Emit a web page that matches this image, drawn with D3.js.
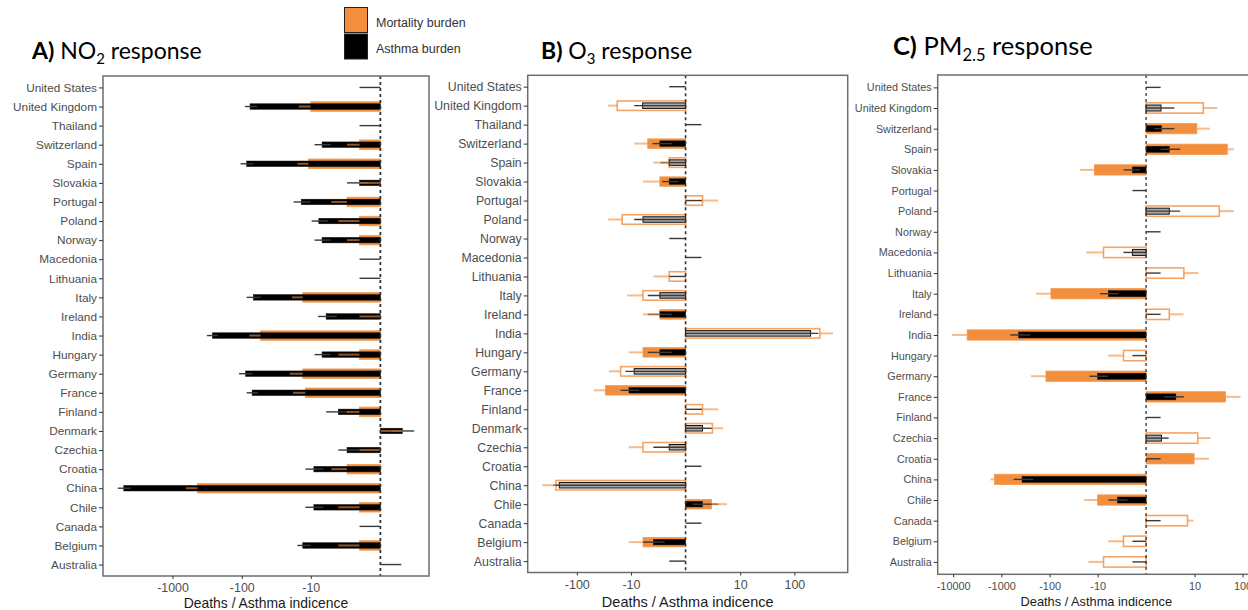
<!DOCTYPE html>
<html><head><meta charset="utf-8">
<script src="https://cdn.jsdelivr.net/npm/d3@7"></script>
<style>body{margin:0;background:#fff;} svg{display:block;font-family:"Liberation Sans",Arial,sans-serif;}</style>
</head><body><svg id="chart" width="1248" height="610"></svg>
<script>
// ---------- DATA ----------
const countriesAB = ["United States","United Kingdom","Thailand","Switzerland","Spain","Slovakia","Portugal","Poland","Norway","Macedonia","Lithuania","Italy","Ireland","India","Hungary","Germany","France","Finland","Denmark","Czechia","Croatia","China","Chile","Canada","Belgium","Australia"];
const countriesC = ["United States","United Kingdom","Switzerland","Spain","Slovakia","Portugal","Poland","Norway","Macedonia","Lithuania","Italy","Ireland","India","Hungary","Germany","France","Finland","Czechia","Croatia","China","Chile","Canada","Belgium","Australia"];

// A) NO2 response
const no2MortVal   = [0,-10,0,-1.5,-10.8,0,-2.7,-1.5,-1.5,0,0,-13.1,0,-53.5,-1.5,-13.1,-12,-1.5,0,0,-2.7,-435,-1.5,0,-1.5,0];
const no2MortBound = [0,-15,0,-2.7,-15.7,-1.5,-4.9,-3.8,-2.7,0,0,-18.8,-1.5,-78,-3.8,-20.3,-18.2,-2.7,1.6,-1.5,-4.9,-640,-3.8,0,-3.8,0];
const no2MortSig   = [1,1,1,1,1,1,1,1,1,1,1,1,1,1,1,1,1,1,1,1,1,1,1,1,1,1];
const no2AsthVal   = [0,-76,0,-6.8,-85,-1.5,-13.8,-7.6,-6.8,0,0,-68,-5.9,-265,-6.8,-88,-71,-3.8,1.6,-2.7,-9,-5040,-9,0,-13.1,0];
const no2AsthLo    = [-1.5,-90,-1.5,-8.8,-104,-2.7,-17.8,-9.7,-8.8,-1.5,-1.5,-85,-7.8,-319,-8.8,-110,-85,-5.9,0.8,-3.8,-12,-6150,-12,-1.5,-15.7,0];
const no2AsthHi    = [0,-60,0,-5,-68,-0.8,-10,-5.5,-5,0,0,-53,-4,-220,-5,-70,-58,-2.5,2.75,-1.5,-6.5,-4000,-6.5,0,-10,1.5];
const no2AsthSig   = [1,1,1,1,1,1,1,1,1,1,1,1,1,1,1,1,1,1,1,1,1,1,1,1,1,1];

// B) O3 response
const o3MortVal   = [0,-18,0,-4.76,-1.5,-2.63,1.56,-14.6,0,0,-1.5,-5.9,-2.63,294,-5.9,-15.6,-29.6,1.56,2.8,-5.9,0,-242,2.67,0,-5.9,0];
const o3MortBound = [0,-26.5,0,-8.7,-3.66,-5.9,3.74,-26.5,0,0,-3.66,-11.8,-5.9,517,-11,-25.7,-48.5,3.74,4.7,-11,0,-432,5.6,0,-11,0];
const o3MortSig   = [1,0,1,1,0,1,0,0,1,1,0,0,1,0,1,0,1,0,0,0,1,0,1,1,1,1];
const o3AsthVal   = [0,-6,0,-2.63,-1.5,-1.5,0,-5.9,0,0,0,-2.63,-2.63,199,-2.63,-8.7,-10.9,0,1.56,-1.5,0,-210,1.56,0,-3.66,0];
const o3AsthLo    = [-1.5,-8.7,0,-3.8,-2.55,-2.3,0,-8.7,-1.5,0,-1.5,-4.76,-4.76,0,-4.76,-12.7,-15.6,0,0,-3.66,0,-272,0.6,0,-5.9,-1.5];
const o3AsthHi    = [0,0,1.45,-1.2,0,-0.6,1.5,0,0,1.45,0,0,-1.2,275,-1.2,0,-7,1.5,2.7,0,1.45,0,3.74,1.45,-2,0];
const o3AsthSig   = [1,0,1,1,0,1,1,0,1,1,1,0,1,0,1,0,1,1,0,0,1,0,1,1,1,1];

// C) PM2.5 response
const pmMortVal   = [0,15.3,11.2,48.2,-11.7,0,32.9,0,-7.5,5.9,-93.8,2.7,-5130,-2.6,-119,44.5,0,11.7,9.8,-1396,-10,7.1,-2.6,-7.5];
const pmMortBound = [0,29.9,21,66,-23.2,0,66,0,-17.4,12.1,-192,5.8,-10500,-5.9,-243,91,0,21.8,20,-1690,-19.2,9.5,-5.9,-15.6];
const pmMortSig   = [1,0,1,1,1,1,0,1,0,0,1,0,1,0,1,1,1,0,1,1,1,0,0,0];
const pmAsthVal   = [0,1.55,1.6,2.7,-1.4,0,2.7,0,-1.4,0,-5.9,0,-438,0,-10,3.9,0,1.6,0,-373,-3.65,0,0,0];
const pmAsthLo    = [0,0,0.8,1.5,-2.6,-1.4,0,0,-2.6,0,-8.9,0,-651,-1.4,-14.9,2,0,0,0,-556,-5.9,0,-1.4,-1.4];
const pmAsthHi    = [1.5,3.6,3.6,4.9,-0.6,0,4.9,1.5,0,1.5,-3.5,1.5,-250,0,-6,5.9,1.5,2.6,1.5,-220,-2,1.5,0,0];
const pmAsthSig   = [1,0,1,1,1,1,0,1,0,1,1,1,1,1,1,1,1,0,1,1,1,1,1,1];

const ticksA = [-1000,-100,-10];
const ticksB = [-100,-10,10,100];
const ticksC = [-10000,-1000,-100,-10,10,100];
const tickLabelsA = ["-1000","-100","-10"];
const tickLabelsB = ["-100","-10","10","100"];
const tickLabelsC = ["-10000","-1000","-100","-10","10","100"];

const legendLabels = ["Mortality burden","Asthma burden"];
const xTitle = "Deaths / Asthma indicence";

// ---------- STYLE ----------
const ORANGE = "#F28E3C";
const svg = d3.select("#chart");
const T = v => Math.asinh(v / 2) / Math.LN10;   // pseudo-log transform

function drawPanel(cfg) {
  const allT = [...cfg.mVal, ...cfg.mBound, ...cfg.aVal, ...cfg.aLo, ...cfg.aHi].map(T);
  const tmin = d3.min(allT), tmax = d3.max(allT), span = tmax - tmin;
  const x = d3.scaleLinear().domain([tmin - 0.05 * span, tmax + 0.05 * span]).range([cfg.box.left, cfg.box.right]);
  const X = v => x(T(v));
  const y = d3.scalePoint().domain(cfg.countries).range([cfg.box.top, cfg.box.bottom]).padding(0.6);
  const step = y.step();
  const g = svg.append("g");
  const rows = cfg.countries.map((c, i) => ({
    c, mv: cfg.mVal[i], mb: cfg.mBound[i], ms: cfg.mSig[i],
    av: cfg.aVal[i], al: cfg.aLo[i], ah: cfg.aHi[i], as: cfg.aSig[i]
  }));
  const hM = step * 0.5, hA = step * 0.29;

  // mortality bars
  g.selectAll(".mbar").data(rows.filter(d => d.mv !== 0)).join("rect")
    .attr("x", d => Math.min(X(0), X(d.mv)))
    .attr("width", d => Math.abs(X(d.mv) - X(0)))
    .attr("y", d => y(d.c) - hM / 2).attr("height", hM)
    .attr("fill", d => d.ms ? ORANGE : "#fff")
    .attr("stroke", d => d.ms ? "#F39A52" : "#F5A466")
    .attr("stroke-width", d => d.ms ? 0.8 : 1.6);

  // asthma bars
  g.selectAll(".abar").data(rows.filter(d => d.av !== 0)).join("rect")
    .attr("x", d => Math.min(X(0), X(d.av)))
    .attr("width", d => Math.abs(X(d.av) - X(0)))
    .attr("y", d => y(d.c) - hA / 2).attr("height", hA)
    .attr("fill", d => d.as ? "#000" : "#ababab")
    .attr("stroke", "#111").attr("stroke-width", d => d.as ? 0.5 : 1);

  // asthma error bars
  g.selectAll(".aerr").data(rows.filter(d => d.al !== d.ah)).join("line")
    .attr("x1", d => X(d.al)).attr("x2", d => X(d.ah))
    .attr("y1", d => y(d.c)).attr("y2", d => y(d.c))
    .attr("stroke", "#3a3a3a").attr("stroke-width", 1.4);

  // mortality error bars (from estimate to outer bound)
  g.selectAll(".merr").data(rows.filter(d => d.mb !== d.mv)).join("line")
    .attr("x1", d => X(d.mv)).attr("x2", d => X(d.mb))
    .attr("y1", d => y(d.c)).attr("y2", d => y(d.c))
    .attr("stroke", ORANGE).attr("stroke-opacity", 0.6).attr("stroke-width", 2);

  // zero line
  g.append("line").attr("x1", X(0)).attr("x2", X(0))
    .attr("y1", cfg.box.top).attr("y2", cfg.box.bottom)
    .attr("stroke", "#333").attr("stroke-width", cfg.zeroW).attr("stroke-dasharray", "3,3");

  // border
  g.append("rect").attr("x", cfg.box.left).attr("y", cfg.box.top)
    .attr("width", cfg.box.right - cfg.box.left).attr("height", cfg.box.bottom - cfg.box.top)
    .attr("fill", "none").attr("stroke", "#6e6e6e").attr("stroke-width", 1.5);

  // y axis
  const ya = g.append("g").attr("transform", `translate(${cfg.box.left},0)`)
    .call(d3.axisLeft(y).tickSize(4).tickPadding(2));
  ya.select(".domain").remove();
  ya.selectAll("line").attr("stroke", "#333");
  ya.selectAll("text").attr("fill", "#4d4d4d").style("font-size", cfg.yFont + "px")
    .style("font-family", "Liberation Sans, Arial, sans-serif");

  // x axis
  const xa = g.append("g").attr("transform", `translate(0,${cfg.box.bottom})`)
    .call(d3.axisBottom(x).tickValues(cfg.ticks.map(T)).tickSize(3).tickPadding(4.5)
      .tickFormat((d, i) => cfg.tickLabels[i]));
  xa.select(".domain").remove();
  xa.selectAll("line").attr("stroke", "#333");
  xa.selectAll("text").attr("fill", "#4d4d4d").style("font-size", cfg.xFont + "px")
    .style("font-family", "Liberation Sans, Arial, sans-serif");

  // x title
  g.append("text").attr("x", (cfg.box.left + cfg.box.right) / 2).attr("y", cfg.titleY)
    .attr("text-anchor", "middle").attr("fill", "#1a1a1a")
    .style("font-size", cfg.titleFont + "px").text(xTitle);
}

drawPanel({countries: countriesAB, mVal: no2MortVal, mBound: no2MortBound, mSig: no2MortSig,
  aVal: no2AsthVal, aLo: no2AsthLo, aHi: no2AsthHi, aSig: no2AsthSig,
  box: {left: 103, right: 429, top: 76, bottom: 576}, ticks: ticksA, tickLabels: tickLabelsA,
  yFont: 11.8, xFont: 12.4, titleFont: 13.9, titleY: 608, zeroW: 1.8});
drawPanel({countries: countriesAB, mVal: o3MortVal, mBound: o3MortBound, mSig: o3MortSig,
  aVal: o3AsthVal, aLo: o3AsthLo, aHi: o3AsthHi, aSig: o3AsthSig,
  box: {left: 527.7, right: 847.7, top: 75.3, bottom: 572.5}, ticks: ticksB, tickLabels: tickLabelsB,
  yFont: 12.3, xFont: 12.5, titleFont: 14.5, titleY: 607, zeroW: 1.6});
drawPanel({countries: countriesC, mVal: pmMortVal, mBound: pmMortBound, mSig: pmMortSig,
  aVal: pmAsthVal, aLo: pmAsthLo, aHi: pmAsthHi, aSig: pmAsthSig,
  box: {left: 937.7, right: 1255, top: 75, bottom: 574.3}, ticks: ticksC, tickLabels: tickLabelsC,
  yFont: 10.8, xFont: 10.9, titleFont: 12.8, titleY: 605.5, zeroW: 1.3});

// ---------- TITLES ----------
function title(x, y, size, letter, main, sub, rest) {
  const t = svg.append("text").attr("x", x).attr("y", y)
    .style("font-family", "Lato, 'Open Sans', sans-serif").style("font-size", size + "px").attr("fill", "#000");
  t.append("tspan").style("font-weight", "bold").text(letter);
  t.append("tspan").text(" " + main);
  t.append("tspan").attr("dy", size * 0.22).style("font-size", (size * 0.65) + "px").text(sub);
  t.append("tspan").attr("dy", -size * 0.22).text(rest);
}
title(32, 59, 23, "A)", "NO", "2", " response");
title(541, 59, 23, "B)", "O", "3", " response");
title(893, 55, 25.5, "C)", "PM", "2.5", " response");

// ---------- LEGEND ----------
const legColors = [ORANGE, "#000"];
const leg = svg.append("g");
leg.selectAll("rect").data(legendLabels).join("rect")
  .attr("x", 344.5).attr("y", (d, i) => 7.5 + i * 26.5).attr("width", 23).attr("height", 25)
  .attr("fill", (d, i) => legColors[i]).attr("stroke", "#222").attr("stroke-width", 1);
leg.selectAll("text").data(legendLabels).join("text")
  .attr("x", 376).attr("y", (d, i) => 26.5 + i * 26).attr("fill", "#333")
  .style("font-size", "12.5px").text(d => d);
</script></body></html>
